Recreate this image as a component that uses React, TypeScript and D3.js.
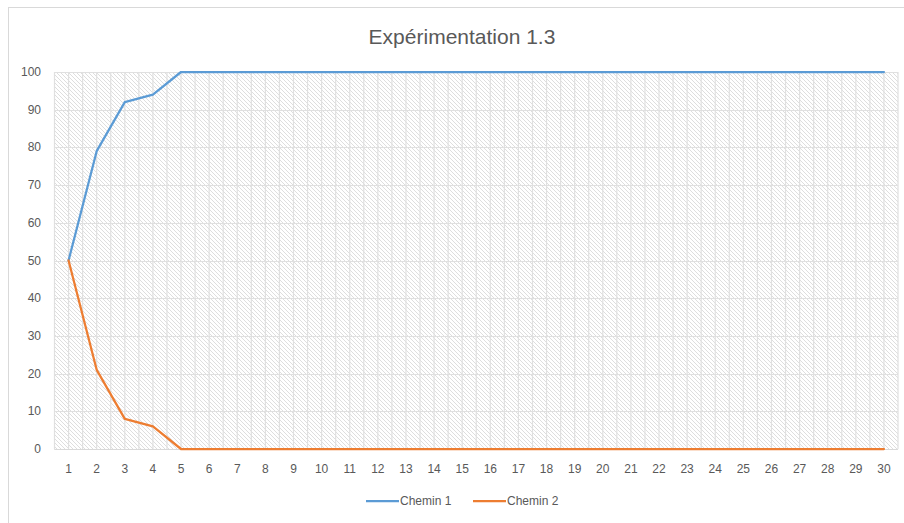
import React from "react";
import * as d3 from "d3";

const categories = d3.range(1, 31).map(String);
const chemin1 = [50, 79, 92, 94, 100, 100, 100, 100, 100, 100, 100, 100, 100, 100, 100, 100, 100, 100, 100, 100, 100, 100, 100, 100, 100, 100, 100, 100, 100, 100];
const chemin2 = [50, 21, 8, 6, 0, 0, 0, 0, 0, 0, 0, 0, 0, 0, 0, 0, 0, 0, 0, 0, 0, 0, 0, 0, 0, 0, 0, 0, 0, 0];
const yTicks = [0, 10, 20, 30, 40, 50, 60, 70, 80, 90, 100];
const seriesNames = ["Chemin 1", "Chemin 2"];
const colors = ["#5B9BD5", "#ED7D31"];

const W = 904, H = 523;
const left = 54.5, right = 898, top = 72, bottom = 449;
const font = "'Liberation Sans', Arial, sans-serif";

export default function App() {
  const x = d3.scaleBand().domain(categories).range([left, right]);
  const y = d3.scaleLinear().domain([0, 100]).range([bottom, top]);
  const cx = (c: string) => (x(c) as number) + x.bandwidth() / 2;
  const line = d3.line<number>().x((_, i) => cx(categories[i])).y((d) => y(d));
  const vLines: number[] = [];
  categories.forEach((c) => {
    vLines.push(x(c) as number);
    vLines.push(cx(c));
  });
  vLines.push(right);
  const series = [chemin1, chemin2];
  return (
    <svg width={W} height={H} style={{ position: "absolute", left: 0, top: 0 }} fontFamily={font}>
      <defs>
        <pattern id="hatch" width="4" height="4" patternUnits="userSpaceOnUse">
          <rect width="4" height="4" fill="#ffffff" />
          <path d="M-1,-1 L5,5 M-1,3 L1,5 M3,-1 L5,1" stroke="#dedede" strokeWidth="1" />
        </pattern>
      </defs>
      <rect x={0} y={0} width={W} height={H} fill="#fff" />
      <rect x={8.5} y={7.5} width={W + 20} height={H + 20} fill="#fff" stroke="#d9d9d9" strokeWidth={1} />
      <text x={462} y={44} textAnchor="middle" fontSize={21} fill="#595959">Expérimentation 1.3</text>
      <rect x={left} y={top} width={right - left} height={bottom - top} fill="url(#hatch)" />
      {yTicks.map((t) => (
        <line key={"h" + t} x1={left} x2={right} y1={Math.round(y(t)) + 0.5} y2={Math.round(y(t)) + 0.5} stroke="#e0e0e0" strokeWidth={1} />
      ))}
      {vLines.map((v, i) => (
        <line key={"v" + i} x1={v} x2={v} y1={top} y2={bottom} stroke="#e0e0e0" strokeWidth={1.2} />
      ))}
      <line x1={left} x2={right} y1={bottom + 0.5} y2={bottom + 0.5} stroke="#d9d9d9" strokeWidth={1} />
      {yTicks.map((t) => (
        <text key={"yl" + t} x={41} y={y(t) + 4} textAnchor="end" fontSize={12} fill="#595959">{t}</text>
      ))}
      {categories.map((c) => (
        <text key={"xl" + c} x={cx(c)} y={473} textAnchor="middle" fontSize={12} fill="#595959">{c}</text>
      ))}
      {series.map((s, i) => (
        <path key={"s" + i} d={line(s) as string} fill="none" stroke={colors[i]} strokeWidth={2.25} strokeLinejoin="round" strokeLinecap="round" />
      ))}
      {seriesNames.map((n, i) => {
        const lx = i === 0 ? 366 : 473;
        return (
          <g key={"lg" + i}>
            <line x1={lx} x2={lx + 33} y1={501} y2={501} stroke={colors[i]} strokeWidth={2.25} />
            <text x={lx + 34} y={505} fontSize={12} fill="#595959">{n}</text>
          </g>
        );
      })}
    </svg>
  );
}
